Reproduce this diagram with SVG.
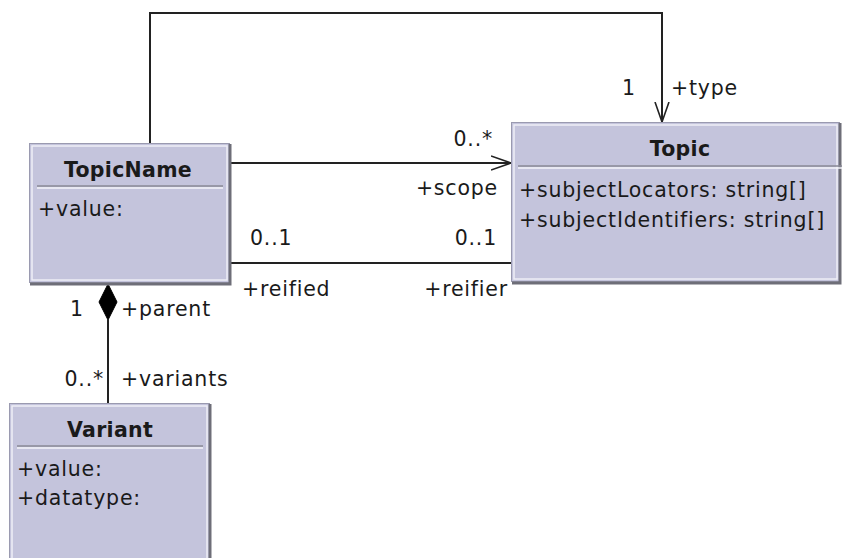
<svg xmlns="http://www.w3.org/2000/svg" width="842" height="558" viewBox="0 0 842 558">
<defs>
<marker id="open" viewBox="0 0 20 20" refX="20" refY="10" markerWidth="20" markerHeight="20" markerUnits="userSpaceOnUse" orient="auto">
<path d="M0,3 L20,10 L0,17" fill="none" stroke="#222" stroke-width="1.6"/>
</marker>
</defs>
<style>
.box{fill:#c4c4dc;stroke:#9a9ab0;stroke-width:1}
.hl{fill:none;stroke:#eeeef6;stroke-width:1.5}
.sh{fill:none;stroke:#6e6e78;stroke-width:3}
.div1{stroke:#8a8a96;stroke-width:1.5}
.div2{stroke:#f4f4fa;stroke-width:1.5}
.t{font-family:"DejaVu Sans","Liberation Sans",sans-serif;font-size:20.5px;letter-spacing:0.8px;fill:#1a1a1a}
.b{font-weight:bold;text-anchor:middle;letter-spacing:0.3px}
.e{text-anchor:end}
.ln{fill:none;stroke:#222;stroke-width:2}
</style>
<g id="connectors">
<path class="ln" d="M150,143 V13 H662 V122" marker-end="url(#open)"/>
<path class="ln" d="M231,163 H511" marker-end="url(#open)"/>
<path class="ln" d="M231,263 H511"/>
<path class="ln" d="M108,320 V403"/>
<path d="M108,284 L99,302 L108,320 L117,302 Z" fill="#000" stroke="#000" stroke-width="1"/>
<text class="t" x="622" y="95">1</text>
<text class="t" x="671" y="95">+type</text>
<text class="t e" x="493" y="146">0..*</text>
<text class="t e" x="498" y="195">+scope</text>
<text class="t" x="250" y="245">0..1</text>
<text class="t e" x="497" y="245">0..1</text>
<text class="t" x="242" y="296">+reified</text>
<text class="t e" x="508" y="296">+reifier</text>
<text class="t" x="70" y="316">1</text>
<text class="t" x="121" y="316">+parent</text>
<text class="t e" x="104" y="386">0..*</text>
<text class="t" x="121" y="386">+variants</text>
</g>
<g id="TopicName">
<rect class="box" x="29.500" y="143.500" width="200" height="139"/>
<path class="sh" d="M230,144 V284 H30"/>
<rect class="hl" x="32" y="146" width="195" height="134"/>
<line class="div1" x1="37" y1="186" x2="223" y2="186"/>
<line class="div2" x1="37" y1="188" x2="223" y2="188"/>
<text class="t b" x="128" y="177">TopicName</text>
<text class="t" x="38" y="216">+value:</text>
</g>
<g id="Topic">
<rect class="box" x="511.500" y="122.500" width="328" height="159"/>
<path class="sh" d="M840,123 V283 H512"/>
<rect class="hl" x="514" y="125" width="323" height="154"/>
<line class="div1" x1="518" y1="166" x2="842" y2="166"/>
<line class="div2" x1="518" y1="168" x2="842" y2="168"/>
<text class="t b" x="680" y="156">Topic</text>
<text class="t" x="519" y="197">+subjectLocators: string[]</text>
<text class="t" x="519" y="227">+subjectIdentifiers: string[]</text>
</g>
<g id="Variant">
<rect class="box" x="9.500" y="403.500" width="200" height="160"/>
<path class="sh" d="M210,404 V560"/>
<rect class="hl" x="12" y="406" width="195" height="160"/>
<line class="div1" x1="17" y1="446" x2="203" y2="446"/>
<line class="div2" x1="17" y1="448" x2="203" y2="448"/>
<text class="t b" x="110" y="437">Variant</text>
<text class="t" x="17" y="476">+value:</text>
<text class="t" x="17" y="505">+datatype:</text>
</g>
</svg>
